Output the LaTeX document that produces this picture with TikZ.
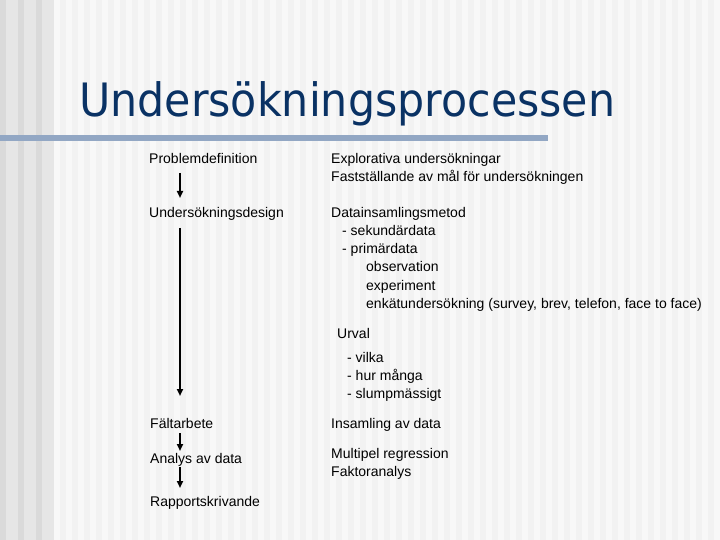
\documentclass[tikz,border=0pt]{standalone}
\usepackage{fontspec}
\setmainfont{Liberation Sans}
\newfontfamily\titlefont{DejaVu Sans}
\usetikzlibrary{arrows.meta}
\definecolor{titleblue}{RGB}{10,50,100}
\definecolor{barblue}{RGB}{146,167,196}
\definecolor{bgmain}{RGB}{242,242,242}
\definecolor{bglight}{RGB}{248,248,248}
\definecolor{bgleft}{RGB}{230,230,230}
\definecolor{bgdark}{RGB}{218,218,218}
\begin{document}
\begin{tikzpicture}[x=1bp,y=-1bp,
  txt/.style={anchor=base west, inner sep=0pt, font=\fontsize{14bp}{17bp}\selectfont, text=black},
  arr/.style={line width=2bp, -{Triangle[width=6bp,length=7bp]}}]
\useasboundingbox (0,0) rectangle (720,540);
% background stripes
\fill[bgmain] (0,0) rectangle (720,540);
\foreach \x in {54,66,...,714} \fill[bglight] (\x,0) rectangle ++(6,540);
\fill[bgleft] (0,0) rectangle (54,540);
\foreach \x in {0,18,36} \fill[bgdark] (\x,0) rectangle ++(6,540);
% title
\node[anchor=base west, inner sep=0pt, text=titleblue, font=\titlefont\fontsize{46bp}{50bp}\selectfont, xscale=0.93] (title) at (79,117) {Undersökningsprocessen};
\fill[barblue] (0,135) rectangle (548,141);
% left column
\node[txt] (pd) at (149,164) {Problemdefinition};
\node[txt] (ds) at (149,218) {Undersökningsdesign};
\node[txt] (fa) at (150,428) {Fältarbete};
\node[txt] (ad) at (150,463) {Analys av data};
\node[txt] (rs) at (150,506) {Rapportskrivande};
\coordinate (ax) at (180,0);
\draw[arr] ([yshift=-9bp]pd.base -| ax) -- ([yshift=20bp]ds.base -| ax);
\draw[arr] ([yshift=-10bp]ds.base -| ax) -- ([yshift=32bp]fa.base -| ax);
\draw[arr] ([yshift=-5bp]fa.base -| ax) -- ([yshift=12bp]ad.base -| ax);
\draw[arr] ([yshift=-4bp]ad.base -| ax) -- ([yshift=18bp]rs.base -| ax);
% right column
\node[txt] (r1) at (331,164) {Explorativa undersökningar};
\node[txt] (r2) at (331,182) {Fastställande av mål för undersökningen};
\node[txt] (r3) at (331,218) {Datainsamlingsmetod};
\node[txt] (r4) at (342,236) {- sekundärdata};
\node[txt] (r5) at (342,254) {- primärdata};
\node[txt] (r6) at (366,272) {observation};
\node[txt] (r7) at (366,290) {experiment};
\node[txt] (r8) at (366,308) {enkätundersökning (survey, brev, telefon, face to face)};
\node[txt] (u1) at (337,338) {Urval};
\node[txt] (u2) at (347,362) {- vilka};
\node[txt] (u3) at (347,380) {- hur många};
\node[txt] (u4) at (347,398) {- slumpmässigt};
\node[txt] (i1) at (331,428) {Insamling av data};
\node[txt] (m1) at (331,458) {Multipel regression};
\node[txt] (m2) at (331,476) {Faktoranalys};
\end{tikzpicture}
\end{document}
